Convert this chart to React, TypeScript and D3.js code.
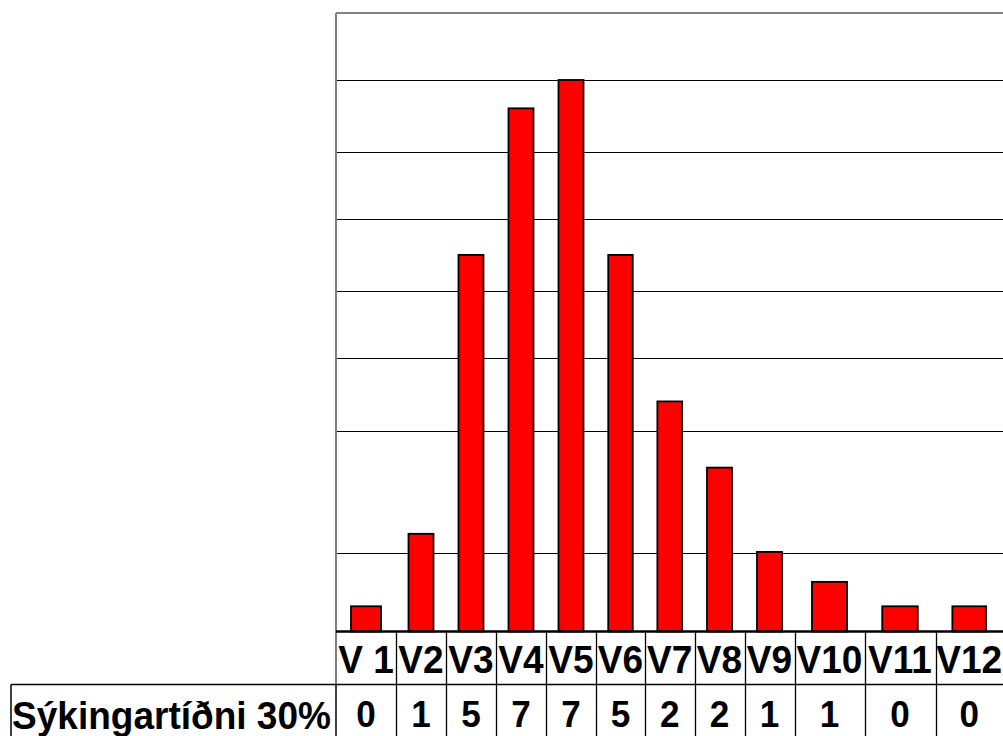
import { useRef, useEffect } from 'react';
import * as d3 from 'd3';

// values
const categories = ['V 1', 'V2', 'V3', 'V4', 'V5', 'V6', 'V7', 'V8', 'V9', 'V10', 'V11', 'V12'];
const barValues = [0.32, 1.24, 4.78, 6.64, 7.0, 4.78, 2.92, 2.08, 1.01, 0.63, 0.32, 0.32];
const tableValues = ['0', '1', '5', '7', '7', '5', '2', '2', '1', '1', '0', '0'];
const gridValues = [1.0, 2.54, 3.47, 4.32, 5.24, 6.09, 7.0];
const rowLabel = 'Sýkingartíðni 30%';
const yMax = 7.85;

const FONT = '"Liberation Sans", Arial, sans-serif';

export default function App() {
  const ref = useRef<SVGSVGElement>(null);

  useEffect(() => {
    if (!ref.current) return;
    ChartRenderer(ref.current);
  }, []);

  return (
    <svg
      ref={ref}
      width={1003}
      height={736}
      style={{ position: 'absolute', left: 0, top: 0, background: '#fff' }}
    />
  );
}

function ChartRenderer(svgElement: SVGSVGElement) {
  // the columns in the original are not evenly wide
  const colWeights = [60, 50, 50, 50, 50, 49, 49.5, 50, 50, 70, 71, 67.5];
  const plotLeft = 336;
  const plotRight = 1003;
  const plotTop = 13;
  const baseline = 631.5;
  const headerBottom = 684.5;
  const tableBottom = 760;
  const labelLeft = 11;
  // the source text is slightly narrow for its height
  const squeeze = 'scale(0.95,1)';

  const svg = d3.select(svgElement);
  svg.selectAll('*').remove();

  const edges = [0, ...Array.from(d3.cumsum(colWeights))];
  const x = d3.scaleLinear().domain([0, d3.sum(colWeights)]).range([plotLeft, plotRight]);
  const y = d3.scaleLinear().domain([0, yMax]).range([baseline, plotTop]);

  const cols = categories.map((c, i) => {
    const x0 = x(edges[i]);
    const x1 = x(edges[i + 1]);
    return { c, i, x0, x1, cx: (x0 + x1) / 2, w: x1 - x0 };
  });

  // gridlines
  svg.append('g')
    .selectAll('line')
    .data(gridValues)
    .enter()
    .append('line')
    .attr('x1', plotLeft)
    .attr('x2', plotRight)
    .attr('y1', (d) => Math.round(y(d)) + 0.5)
    .attr('y2', (d) => Math.round(y(d)) + 0.5)
    .attr('stroke', '#000')
    .attr('stroke-width', 1.2);

  // bars
  svg.append('g')
    .selectAll('rect')
    .data(cols)
    .enter()
    .append('rect')
    .attr('x', (d) => d.cx - d.w * 0.25)
    .attr('y', (d) => y(barValues[d.i]))
    .attr('width', (d) => d.w * 0.5)
    .attr('height', (d) => baseline - y(barValues[d.i]))
    .attr('fill', '#ff0000')
    .attr('stroke', '#000')
    .attr('stroke-width', 1.8);

  // frame: grey top border and left axis
  svg.append('line')
    .attr('x1', plotLeft).attr('x2', plotRight)
    .attr('y1', plotTop).attr('y2', plotTop)
    .attr('stroke', '#808080').attr('stroke-width', 2);
  svg.append('line')
    .attr('x1', plotLeft).attr('x2', plotLeft)
    .attr('y1', plotTop).attr('y2', headerBottom)
    .attr('stroke', '#808080').attr('stroke-width', 2);

  // table lines
  const table = svg.append('g').attr('stroke', '#000');
  table.selectAll('.vline')
    .data(cols.slice(1))
    .enter()
    .append('line')
    .attr('class', 'vline')
    .attr('x1', (d) => Math.round(d.x0) + 0.5)
    .attr('x2', (d) => Math.round(d.x0) + 0.5)
    .attr('y1', baseline)
    .attr('y2', tableBottom)
    .attr('stroke-width', 1.3);
  table.append('line')
    .attr('x1', plotLeft).attr('x2', plotLeft)
    .attr('y1', headerBottom).attr('y2', tableBottom)
    .attr('stroke-width', 1.5);
  table.append('line')
    .attr('x1', labelLeft).attr('x2', labelLeft)
    .attr('y1', headerBottom).attr('y2', tableBottom)
    .attr('stroke-width', 1.5);
  table.append('line')
    .attr('x1', labelLeft).attr('x2', plotRight)
    .attr('y1', headerBottom).attr('y2', headerBottom)
    .attr('stroke-width', 1.3);
  table.append('line')
    .attr('x1', plotLeft).attr('x2', plotRight)
    .attr('y1', baseline).attr('y2', baseline)
    .attr('stroke-width', 2.6);

  // header labels
  svg.append('g')
    .selectAll('text')
    .data(cols)
    .enter()
    .append('text')
    .attr('transform', (d) => `translate(${d.cx},673) ${squeeze}`)
    .attr('text-anchor', 'middle')
    .style('font-family', FONT)
    .style('font-weight', 'bold')
    .style('font-size', '39px')
    .text((d) => d.c);

  // table values
  svg.append('g')
    .selectAll('text')
    .data(cols)
    .enter()
    .append('text')
    .attr('transform', (d) => `translate(${d.cx},727) ${squeeze}`)
    .attr('text-anchor', 'middle')
    .style('font-family', FONT)
    .style('font-weight', 'bold')
    .style('font-size', '37px')
    .text((d) => tableValues[d.i]);

  svg.append('text')
    .attr('transform', `translate(${labelLeft + 1},729) ${squeeze}`)
    .style('font-family', FONT)
    .style('font-weight', 'bold')
    .style('font-size', '39px')
    .text(rowLabel);
}
